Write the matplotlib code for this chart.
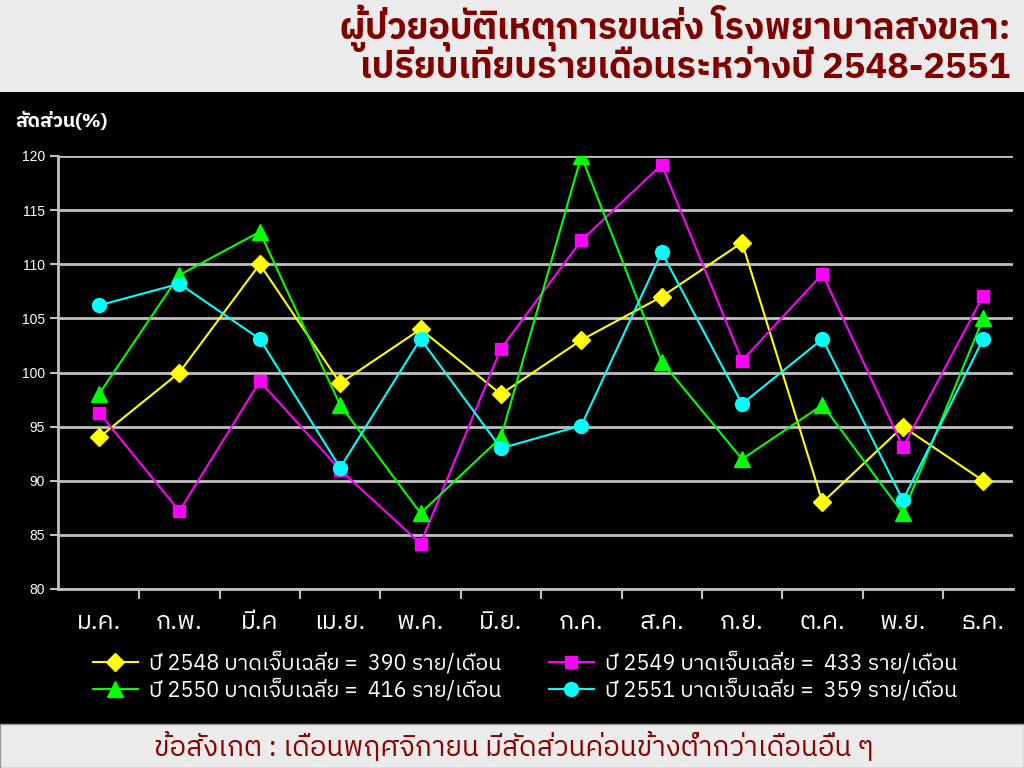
import matplotlib
matplotlib.use('Agg')
import matplotlib.pyplot as plt
from matplotlib.patches import Rectangle

plt.rcParams['font.family'] = ['IBM Plex Sans Thai', 'DejaVu Sans']

# data
months = ['ม.ค.', 'ก.พ.', 'มี.ค', 'เม.ย.', 'พ.ค.', 'มิ.ย.', 'ก.ค.', 'ส.ค.', 'ก.ย.', 'ต.ค.', 'พ.ย.', 'ธ.ค.']
y2548 = [94, 100, 110, 99, 104, 98, 103, 107, 112, 88, 95, 90]
y2549 = [96.3, 87.2, 99.2, 91, 84.2, 102.2, 112.2, 119.2, 101.1, 109.1, 93.1, 107.1]
y2550 = [98, 109, 113, 97, 87, 94, 120, 101, 92, 97, 87, 105]
y2551 = [106.2, 108.2, 103.1, 91.2, 103.1, 93, 95.1, 111.1, 97.1, 103.1, 88.2, 103.1]
labels = ['ปี 2548 บาดเจ็บเฉลี่ย =  390 ราย/เดือน',
          'ปี 2549 บาดเจ็บเฉลี่ย =  433 ราย/เดือน',
          'ปี 2550 บาดเจ็บเฉลี่ย =  416 ราย/เดือน',
          'ปี 2551 บาดเจ็บเฉลี่ย =  359 ราย/เดือน']

W, H = 1024, 768
fig = plt.figure(figsize=(W / 100, H / 100), dpi=100, facecolor='black')

# light bands top and bottom
fig.patches.append(Rectangle((0, 1 - 92 / H), 1, 92 / H, transform=fig.transFigure,
                             facecolor='#ebebeb', edgecolor='none', zorder=0))
fig.patches.append(Rectangle((0, 0), 1, 44 / H, transform=fig.transFigure,
                             facecolor='#ebebeb', edgecolor='#9a9a9a', lw=1, zorder=0))

fig.text(1010 / W, 1 - 28 / H, 'ผู้ป่วยอุบัติเหตุการขนส่ง โรงพยาบาลสงขลา:', ha='right', va='center',
         color='#800000', fontsize=26, fontweight='bold')
fig.text(1010 / W, 1 - 68 / H, 'เปรียบเทียบรายเดือนระหว่างปี 2548-2551', ha='right', va='center',
         color='#800000', fontsize=26, fontweight='bold')
fig.text(514 / W, 21 / H, 'ข้อสังเกต : เดือนพฤศจิกายน มีสัดส่วนค่อนข้างต่ำกว่าเดือนอื่น ๆ', ha='center',
         va='center', color='#8b0000', fontsize=20)
fig.text(15 / W, 1 - 121 / H, 'สัดส่วน(%)', ha='left', va='center', color='white',
         fontsize=14, fontweight='bold')

ax = fig.add_axes([58 / W, 1 - 589 / H, (1013 - 58) / W, (589 - 156) / H])
ax.set_facecolor('black')
x = list(range(len(months)))
h1, = ax.plot(x, y2548, color='#ffff00', lw=1.5, marker='D', ms=9, label=labels[0])
h2, = ax.plot(x, y2549, color='#ff00ff', lw=1.5, marker='s', ms=9, label=labels[1])
h3, = ax.plot(x, y2550, color='#00ff00', lw=1.5, marker='^', ms=11, label=labels[2])
h4, = ax.plot(x, y2551, color='#00ffff', lw=1.5, marker='o', ms=10, label=labels[3])

ax.set_yticks(range(80, 121, 5))
ax.grid(axis='y', color='#c0c0c0', lw=2)
ax.set_axisbelow(True)
ax.set_xticks([k + 0.5 for k in range(12)])
ax.set_xticklabels([])
ax.set_xticks(x, minor=True)
ax.set_xticklabels(months, minor=True, fontsize=18, color='white')
ax.set_ylim(80, 120)
ax.set_xlim(-0.51, 11.37)
ax.tick_params(axis='x', which='minor', length=0, pad=16)
ax.tick_params(axis='x', which='major', length=7, width=1.5, color='#c0c0c0')
ax.tick_params(axis='y', length=6, width=1.5, color='#c0c0c0', labelcolor='white', labelsize=10)
for lab in ax.get_yticklabels():
    lab.set_family(['Liberation Sans', 'DejaVu Sans'])
for s in ['top', 'right']:
    ax.spines[s].set_visible(False)
for s in ['left', 'bottom']:
    ax.spines[s].set_color('#c0c0c0')
    ax.spines[s].set_linewidth(2)

# row-wise order: 2548, 2549 on first row; 2550, 2551 on second
leg = fig.legend([h1, h3, h2, h4], [labels[0], labels[2], labels[1], labels[3]],
                 loc='upper left', bbox_to_anchor=(82 / W, 1 - 641 / H), ncol=2,
                 frameon=False, fontsize=15.5, labelcolor='white', handlelength=2.1,
                 columnspacing=2.2, handletextpad=0.5, labelspacing=0.2, borderpad=0)

fig.savefig('out.png', dpi=100, facecolor='black')
